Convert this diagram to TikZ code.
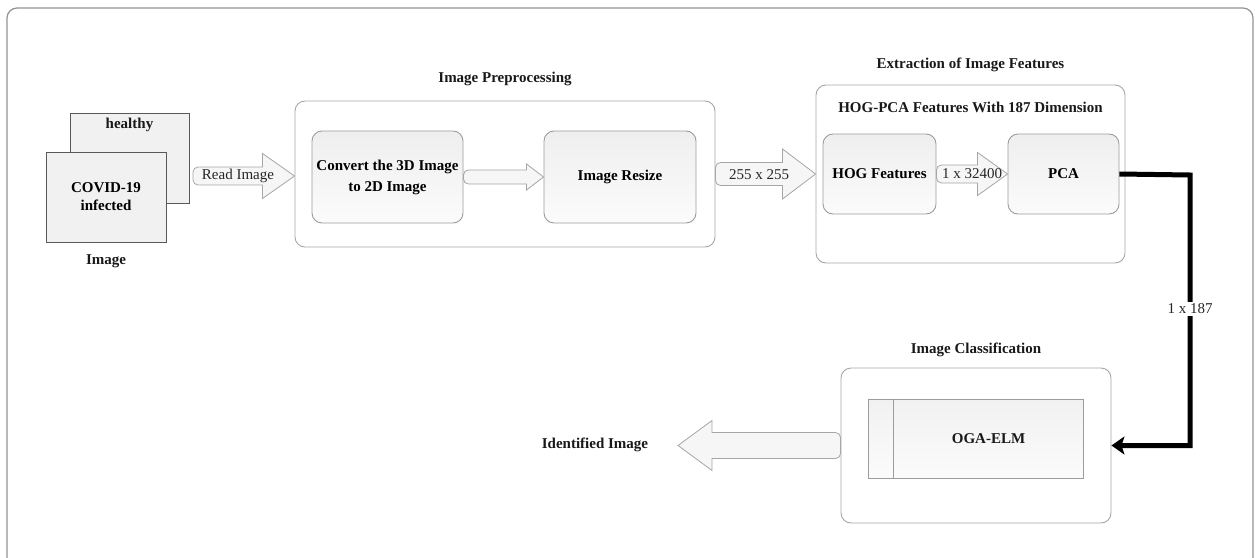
\documentclass[tikz,border=0pt]{standalone}
\usepackage{fontspec}
\setmainfont{Liberation Serif}
\usetikzlibrary{arrows.meta,calc}

\newcommand\fs{\fontsize{15}{18}\selectfont}

% right-pointing block arrow: #1 tail point, #2 tip point, #3 head length, #4 body half-height, #5 head half-height
\newcommand\rblock[5]{%
  \draw[blockarrow] let \p1=#1, \p2=#2 in
    (\x2-#3pt,\y1-#4pt) [rounded corners=5pt]-- (\x1,\y1-#4pt) -- (\x1,\y1+#4pt)
    [sharp corners]-- (\x2-#3pt,\y1+#4pt) -- (\x2-#3pt,\y1+#5pt) -- (\x2,\y1)
    -- (\x2-#3pt,\y1-#5pt) -- cycle;}
% left-pointing block arrow, same arguments
\newcommand\lblock[5]{%
  \draw[blockarrow] let \p1=#1, \p2=#2 in
    (\x2+#3pt,\y1-#4pt) [rounded corners=5pt]-- (\x1,\y1-#4pt) -- (\x1,\y1+#4pt)
    [sharp corners]-- (\x2+#3pt,\y1+#4pt) -- (\x2+#3pt,\y1+#5pt) -- (\x2,\y1)
    -- (\x2+#3pt,\y1-#5pt) -- cycle;}

\tikzset{
  frame/.style={draw=gray!85, line width=1.2pt, rounded corners=10pt},
  group/.style={draw=gray!70, line width=0.9pt, rounded corners=10pt, fill=white, inner sep=0pt},
  stage/.style={draw=gray!78, line width=0.9pt, rounded corners=10pt,
    top color=gray!13, bottom color=gray!3, font=\fs\bfseries, align=center, inner sep=0pt},
  flat/.style={draw=gray!78, line width=0.9pt, top color=gray!11, bottom color=gray!3, inner sep=0pt},
  card/.style={draw=gray!70!black, line width=0.9pt, fill=gray!11, inner sep=0pt,
    font=\fs\bfseries, align=center},
  title/.style={font=\fs\bfseries, text=black!90},
  plain/.style={font=\fs, text=black!85},
  blockarrow/.style={draw=gray!70, line width=0.8pt, fill=gray!7},
  flow/.style={line width=5pt, -{Stealth[length=13pt,width=18pt,inset=3pt]}},
}

\begin{document}
\begin{tikzpicture}[x=1pt,y=-1pt]
\useasboundingbox (0,0) rectangle (1255,557);

% outer frame
\draw[frame] (7,8) rectangle (1253,580);

% input images
\node[card, minimum width=119pt, minimum height=90pt] (healthy) at (129.5,158) {};
\node[title] (healthyT) at ([yshift=-12pt]healthy.north) {healthy};
\node[card, minimum width=120pt, minimum height=90pt] (covid) at (106,197) {COVID-19\\infected};
\node[title] (imageT) at ([yshift=-19pt]covid.south) {Image};

% image preprocessing
\node[group, minimum width=420pt, minimum height=146pt] (pre) at (505,174) {};
\node[title] (preT) at ([yshift=22pt]pre.north) {Image Preprocessing};
\node[stage, minimum width=151pt, minimum height=92pt] (conv) at (387.5,177)
  {Convert the 3D Image\\[3pt]to 2D Image};
\node[stage, minimum width=152pt, minimum height=92pt] (resize) at (620,177) {Image Resize};

% feature extraction
\node[group, minimum width=309pt, minimum height=178pt] (ext) at (970.5,174) {};
\node[title] (extT) at ([yshift=20pt]ext.north) {Extraction of Image Features};
\node[title] (hogpca) at ([yshift=-23pt]ext.north) {HOG-PCA Features With 187 Dimension};
\node[stage, minimum width=113pt, minimum height=80pt] (hog) at (879.5,174) {HOG Features};
\node[stage, minimum width=111pt, minimum height=80pt] (pca) at (1063.5,174) {PCA};

% classification
\node[group, minimum width=270pt, minimum height=155pt] (cls) at (976,445.5) {};
\node[title] (clsT) at ([yshift=18pt]cls.north) {Image Classification};
\node[flat, minimum width=215pt, minimum height=79pt] (oga) at (975.5,438.5) {};
\draw[draw=gray!78, line width=0.9pt] ([xshift=26pt]oga.north west) -- ([xshift=26pt]oga.south west);
\node[title] (ogaT) at ([xshift=13pt]oga.center) {OGA-ELM};

% output
\coordinate (outtip) at (678,446);
\node[title] (ident) at (595,445) {Identified Image};

% block arrows
\coordinate (readtail) at (193,176);
\rblock{(readtail)}{(pre.west)}{32}{9}{22.5}
\node[plain] (readL) at (238,176) {Read Image};
\rblock{(conv.east)}{(resize.west)}{17}{7}{13}
\rblock{(pre.east)}{(ext.west)}{33}{11.5}{25}
\node[plain] (sizeL) at (759,175) {255 x 255};
\rblock{(hog.east)}{(pca.west)}{30}{9}{21.5}
\node[plain] (hogL) at (972,174) {1 x 32400};
\lblock{(cls.west)}{(outtip)}{34}{13}{25}

% feature vector to the classifier
\coordinate (turn) at (1190,175);
\draw[flow] (pca.east) -- (turn) |- (cls.east);
\node[plain, fill=white, inner sep=2pt] (vecL) at ($(turn)!0.494!(turn|-cls.east)$) {1 x 187};
\end{tikzpicture}
\end{document}
